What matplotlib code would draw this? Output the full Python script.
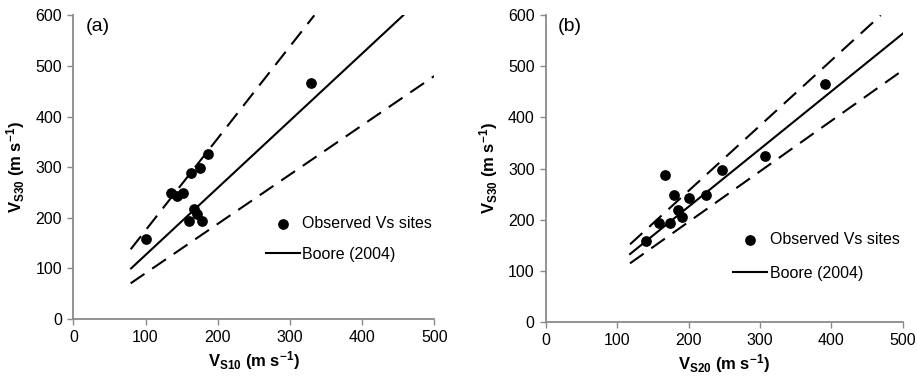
import matplotlib
matplotlib.use("Agg")
import matplotlib.pyplot as plt
from matplotlib import font_manager

fams = {f.name for f in font_manager.fontManager.ttflist}
base = "Liberation Sans Narrow" if "Liberation Sans Narrow" in fams else "Liberation Sans"
plt.rcParams['font.family'] = [base, 'DejaVu Sans']
plt.rcParams['mathtext.fontset'] = 'custom'
plt.rcParams['mathtext.rm'] = base
plt.rcParams['mathtext.bf'] = base + ':bold'
plt.rcParams['mathtext.it'] = base + ':italic'

# Panel (a) data: Vs10 vs Vs30
a_x = [100.6, 134.8, 144.0, 151.4, 163.0, 175.0, 187.0, 160.7, 167.6, 170.8, 178.2, 329.2]
a_y = [158, 249.7, 243, 248, 288, 298, 326, 193.7, 218, 206.9, 194.3, 466.4]
a_boore_x = [80, 457]
a_boore_y = [100, 600]
a_up_x = [79.4, 333.8]
a_up_y = [137.7, 600]
a_lo_x = [79.4, 500]
a_lo_y = [70.5, 480]

# Panel (b) data: Vs20 vs Vs30
b_x = [140.5, 159.2, 174.6, 167.6, 180.2, 184.9, 190.5, 201.2, 225.0, 247.0, 307.2, 390.8]
b_y = [158, 192.6, 193.9, 287.9, 248.1, 218.1, 205.7, 242.9, 248.1, 297.7, 325.1, 465.5]
b_boore_x = [118.1, 500]
b_boore_y = [132.5, 564]
b_up_x = [118.1, 469.2]
b_up_y = [151.5, 600]
b_lo_x = [118.1, 500]
b_lo_y = [114.3, 492.3]

xticks = [0, 100, 200, 300, 400, 500]
yticks = [0, 100, 200, 300, 400, 500, 600]

fig = plt.figure(figsize=(9.17, 3.8), dpi=100)
ax1 = fig.add_axes([0.0800, 0.1605, 0.3936, 0.7992])
ax2 = fig.add_axes([0.5951, 0.1534, 0.3893, 0.8063])

grey = '#8a8a8a'
panels = [
    (ax1, a_x, a_y, a_boore_x, a_boore_y, a_up_x, a_up_y, a_lo_x, a_lo_y, '(a)', 'S10', (0.533, 0.340), 1.0),
    (ax2, b_x, b_y, b_boore_x, b_boore_y, b_up_x, b_up_y, b_lo_x, b_lo_y, '(b)', 'S20', (0.525, 0.292), 1.15),
]
for ax, px, py, bx, by, ux, uy, lx, ly, tag, sub, anchor, lsp in panels:
    ax.plot(ux, uy, color='black', lw=1.5, ls=(0, (8, 4.5)))
    ax.plot(lx, ly, color='black', lw=1.5, ls=(0, (8, 4.5)))
    ax.plot(bx, by, color='black', lw=1.5, label='Boore (2004)')
    ax.scatter(px, py, s=45, color='black', zorder=3, label='Observed Vs sites')
    ax.set_xlim(0, 500)
    ax.set_ylim(0, 600)
    ax.set_xticks(xticks)
    ax.set_yticks(yticks)
    for s in ['top', 'right']:
        ax.spines[s].set_visible(False)
    for s in ['left', 'bottom']:
        ax.spines[s].set_color(grey)
        ax.spines[s].set_linewidth(1.3)
    ax.tick_params(axis='both', direction='out', length=4, width=1, color=grey,
                   labelsize=11.5, pad=4)
    ax.set_xlabel(r'$\mathbf{V_{' + sub + r'}\ (m\ s^{-1})}$', fontsize=12, labelpad=3)
    ax.set_ylabel(r'$\mathbf{V_{S30}\ (m\ s^{-1})}$', fontsize=12, labelpad=6)
    ax.text(0.033, 0.99, tag, transform=ax.transAxes, fontsize=14, va='top', ha='left')
    h, l = ax.get_legend_handles_labels()
    ax.legend(h[::-1], l[::-1], loc='upper left', bbox_to_anchor=anchor,
              frameon=False, fontsize=11.5, handlelength=2.15, handletextpad=0.15,
              labelspacing=lsp, borderpad=0, borderaxespad=0)

fig.savefig('out.png', dpi=100)
